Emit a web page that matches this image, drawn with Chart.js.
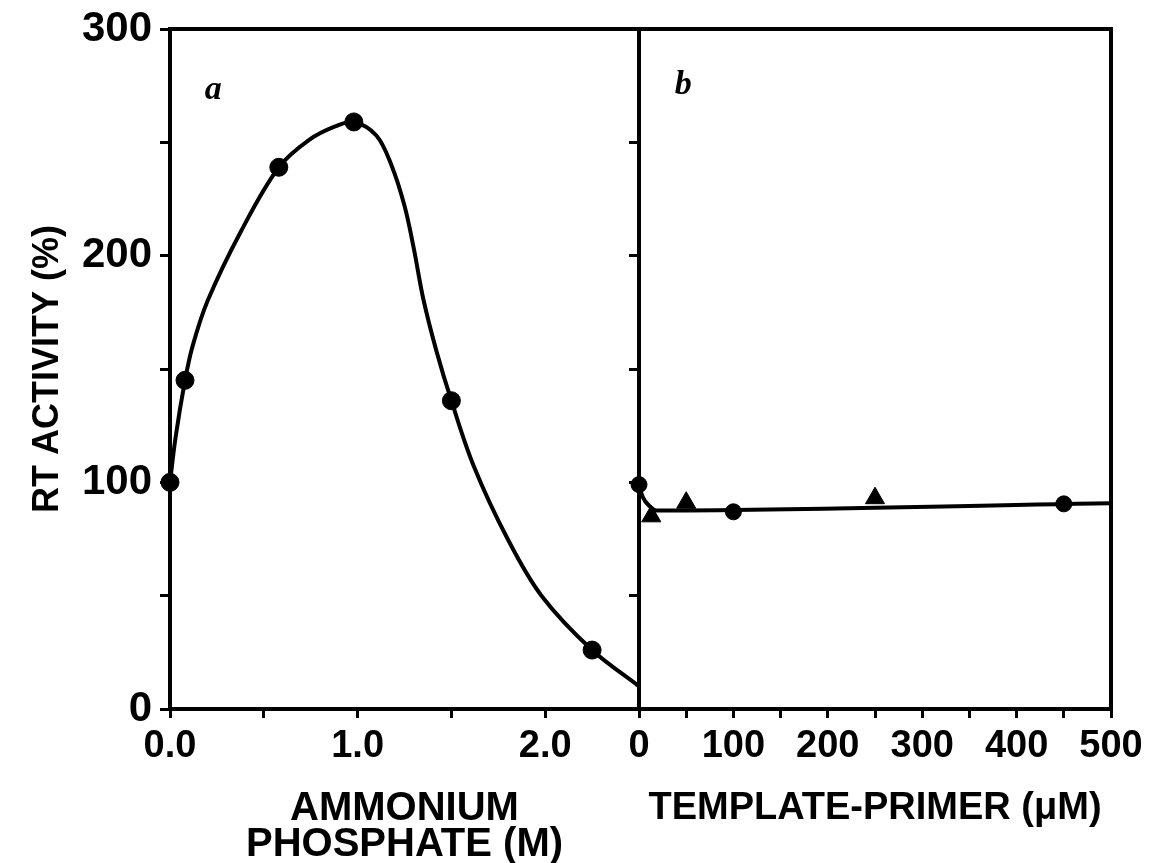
<!DOCTYPE html>
<html>
<head>
<meta charset="utf-8">
<script src="https://cdn.jsdelivr.net/npm/chart.js@4.4.0/dist/chart.umd.min.js"></script>
<style>
  html, body { margin: 0; padding: 0; background: #fff; }
  #wrap { position: relative; width: 1154px; height: 863px; overflow: hidden; }
  canvas { position: absolute; top: 0; }
  #left { left: 0; }
  #right { left: 600px; }
</style>
</head>
<body>
<div id="wrap">
  <canvas id="left" width="650" height="863" style="width:650px;height:863px"></canvas>
  <canvas id="right" width="554" height="863" style="width:554px;height:863px"></canvas>
</div>
<script>
'use strict';

//data

//panel a: ammonium phosphate (M) vs RT activity (%)
const phosphateConc = [0, 0.08, 0.58, 0.98, 1.5, 2.25];
const phosphateActivity = [100, 145, 239, 259, 136, 26];
//hand drawn curve through panel a
const phosphateCurveX = [0, 0.03, 0.08, 0.12, 0.2, 0.38, 0.58, 0.74, 0.88, 0.98, 1.1, 1.18, 1.25, 1.3, 1.35, 1.42, 1.5, 1.62, 1.8, 1.98, 2.25, 2.5];
const phosphateCurveY = [100, 120, 145, 160, 180, 211, 239, 251, 257, 259, 253, 240, 222, 203, 181, 158, 136, 107, 75, 50, 26, 10];

//panel b: template-primer (uM) vs RT activity (%)
const primerCircleConc = [0, 100, 450];
const primerCircleActivity = [99, 87, 90.5];
const primerTriangleConc = [13, 50, 250];
const primerTriangleActivity = [85, 91, 93];
const primerCurveX = [0, 4, 10, 19, 500];
const primerCurveY = [99, 93.5, 90, 87.6, 90.8];

//tick labels
const yTickLabels = [0, 100, 200, 300];
const phosphateTickLabels = [0, 1, 2];
const primerTickLabels = [0, 100, 200, 300, 400, 500];

//helpers

function points(xs, ys) {
  return xs.map((x, i) => ({x: x, y: ys[i]}));
}

const black = '#000';
const font = 'Liberation Sans, Arial, Helvetica, sans-serif';

//draws the box round the plot and the panel letter
const framePlugin = {
  id: 'frame',
  afterDatasetsDraw(chart, args, opts) {
    const {ctx, chartArea, scales} = chart;
    ctx.save();
    ctx.strokeStyle = black;
    ctx.lineWidth = 4;
    ctx.strokeRect(chartArea.left, chartArea.top, chartArea.right - chartArea.left, chartArea.bottom - chartArea.top);
    ctx.fillStyle = black;
    ctx.font = 'italic bold 34px "Liberation Serif", "Times New Roman", serif';
    ctx.textAlign = 'center';
    ctx.textBaseline = 'middle';
    ctx.fillText(opts.letter, scales.x.getPixelForValue(opts.at[0]), scales.y.getPixelForValue(opts.at[1]));
    ctx.restore();
  }
};

function markers(data, style, radius) {
  return {
    data: data,
    showLine: false,
    pointStyle: style,
    pointRadius: radius,
    pointBackgroundColor: black,
    pointBorderColor: black,
    pointBorderWidth: 1,
    clip: false
  };
}

function curve(data, tension) {
  return {
    data: data,
    showLine: true,
    pointRadius: 0,
    borderColor: black,
    borderWidth: 4,
    tension: tension,
    clip: false
  };
}

function xAxis(max, step, labels, format, title, titleFont, titlePadding) {
  return {
    type: 'linear',
    min: 0,
    max: max,
    afterBuildTicks(scale) {
      const ticks = [];
      for(let v = 0; v <= max + 1e-9; v += step) {
        ticks.push({value: Math.round(v * 100) / 100});
      }
      scale.ticks = ticks;
    },
    afterFit(scale) { scale.height = 154; },
    border: {display: true, color: black, width: 4},
    grid: {drawOnChartArea: false, drawTicks: true, tickLength: 9, tickWidth: 3, tickColor: black},
    ticks: {
      autoSkip: false,
      maxRotation: 0,
      padding: 6,
      color: black,
      font: {family: font, size: 38, weight: 'bold'},
      callback: (v) => labels.includes(v) ? format(v) : ''
    },
    title: {
      display: true,
      text: title,
      color: black,
      font: titleFont,
      padding: titlePadding
    }
  };
}

function yAxis(width, showLabels, title) {
  return {
    type: 'linear',
    min: 0,
    max: 300,
    afterBuildTicks(scale) {
      const ticks = [];
      for(let v = 0; v <= 300; v += 50) {
        ticks.push({value: v});
      }
      scale.ticks = ticks;
    },
    afterFit(scale) { scale.width = width; },
    border: {display: true, color: black, width: 4},
    grid: {drawOnChartArea: false, drawTicks: true, tickLength: 10, tickWidth: 3, tickColor: black},
    ticks: {
      autoSkip: false,
      padding: 8,
      color: black,
      font: {family: font, size: 42, weight: 'bold', lineHeight: 1},
      callback: (v) => showLabels && yTickLabels.includes(v) ? String(v) : ''
    },
    title: title ? {
      display: true,
      text: title,
      color: black,
      font: {family: font, size: 36, weight: 'bold'},
      padding: {top: 26, bottom: 0}
    } : {display: false}
  };
}

const common = {
  responsive: false,
  animation: false,
  events: [],
  plugins: {legend: {display: false}, tooltip: {enabled: false}}
};

//main

new Chart(document.getElementById('left'), {
  type: 'scatter',
  data: {
    datasets: [
      markers(points(phosphateConc, phosphateActivity), 'circle', 9),
      curve(points(phosphateCurveX, phosphateCurveY), 0.35)
    ]
  },
  options: Object.assign({}, common, {
    layout: {padding: {top: 25, right: 11, left: 0, bottom: 0}},
    plugins: Object.assign({}, common.plugins, {frame: {letter: 'a', at: [0.23, 273]}}),
    scales: {
      x: xAxis(2.5, 0.5, phosphateTickLabels, (v) => v.toFixed(1),
        ['AMMONIUM', 'PHOSPHATE (M)'],
        {family: font, size: 40, weight: 'bold', lineHeight: 0.9},
        {top: 10, bottom: 0}),
      y: yAxis(170, true, 'RT ACTIVITY (%)')
    }
  }),
  plugins: [framePlugin]
});

new Chart(document.getElementById('right'), {
  type: 'scatter',
  data: {
    datasets: [
      markers(points(primerTriangleConc, primerTriangleActivity), 'triangle', 11),
      markers(points(primerCircleConc, primerCircleActivity), 'circle', 8),
      curve(points(primerCurveX, primerCurveY), 0.4)
    ]
  },
  options: Object.assign({}, common, {
    layout: {padding: {top: 25, right: 43, left: 0, bottom: 0}},
    plugins: Object.assign({}, common.plugins, {frame: {letter: 'b', at: [47, 275]}}),
    scales: {
      x: xAxis(500, 50, primerTickLabels, (v) => String(v),
        'TEMPLATE-PRIMER (\u03bcM)',
        {family: font, size: 38, weight: 'bold', lineHeight: 1.2},
        {top: 10, bottom: 32}),
      y: yAxis(39, false, null)
    }
  }),
  plugins: [framePlugin]
});
</script>
</body>
</html>
